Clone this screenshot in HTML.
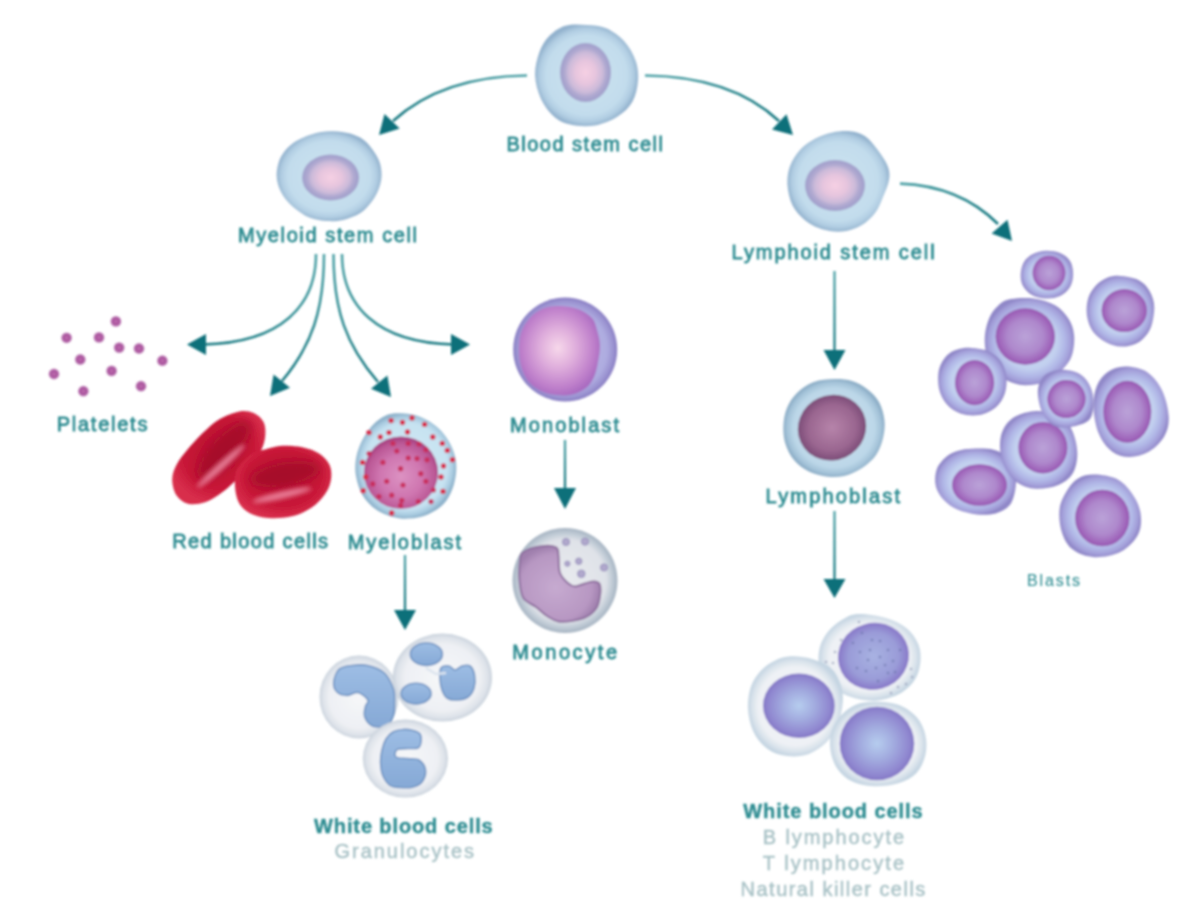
<!DOCTYPE html>
<html><head><meta charset="utf-8"><style>
html,body{margin:0;padding:0;background:#fff;}
svg{display:block;}
text{font-family:"Liberation Sans", sans-serif;}
</style></head><body>
<svg width="1188" height="918" viewBox="0 0 1188 918">
<defs>
<radialGradient id="gStemCyto" cx="50%" cy="50%" r="50%">
  <stop offset="0" stop-color="#cde4f0"/>
  <stop offset="0.78" stop-color="#c2dcec"/>
  <stop offset="0.9" stop-color="#b2cee3"/>
  <stop offset="0.96" stop-color="#a2c0d8"/>
  <stop offset="1" stop-color="#93b2ce"/>
</radialGradient>
<radialGradient id="gStemNuc" cx="50%" cy="50%" r="50%">
  <stop offset="0" stop-color="#f6d0e3"/>
  <stop offset="0.4" stop-color="#e6c5de"/>
  <stop offset="0.68" stop-color="#cbbad9"/>
  <stop offset="0.82" stop-color="#aea8d0"/>
  <stop offset="1" stop-color="#a09fcb"/>
</radialGradient>
<radialGradient id="gMyeloCyto" cx="50%" cy="50%" r="50%">
  <stop offset="0" stop-color="#d4ebf5"/>
  <stop offset="0.82" stop-color="#c6e2f1"/>
  <stop offset="0.93" stop-color="#a9cbe0"/>
  <stop offset="1" stop-color="#8db1ca"/>
</radialGradient>
<radialGradient id="gMyeloNuc" cx="50%" cy="55%" r="52%">
  <stop offset="0" stop-color="#dc92c2"/>
  <stop offset="0.55" stop-color="#cf76b0"/>
  <stop offset="0.88" stop-color="#bb5896"/>
  <stop offset="1" stop-color="#a94584"/>
</radialGradient>
<radialGradient id="gMonoblast" cx="48%" cy="47%" r="55%">
  <stop offset="0" stop-color="#f7d8ea"/>
  <stop offset="0.4" stop-color="#dfaedc"/>
  <stop offset="0.8" stop-color="#bf80cb"/>
  <stop offset="1" stop-color="#a96ac0"/>
</radialGradient>
<radialGradient id="gMonoOuter" cx="50%" cy="50%" r="50%">
  <stop offset="0" stop-color="#bcbce8"/>
  <stop offset="0.8" stop-color="#aeace0"/>
  <stop offset="0.93" stop-color="#9a92d0"/>
  <stop offset="1" stop-color="#877cc2"/>
</radialGradient>
<radialGradient id="gMonocyte" cx="50%" cy="50%" r="50%">
  <stop offset="0" stop-color="#e8eaee"/>
  <stop offset="0.78" stop-color="#dfe2e8"/>
  <stop offset="0.88" stop-color="#c5cfd9"/>
  <stop offset="1" stop-color="#a6b4c2"/>
</radialGradient>
<radialGradient id="gMonoNuc" cx="45%" cy="55%" r="55%">
  <stop offset="0" stop-color="#c6aad0"/>
  <stop offset="0.8" stop-color="#b797c2"/>
  <stop offset="1" stop-color="#a080ae"/>
</radialGradient>
<radialGradient id="gGran" cx="50%" cy="50%" r="50%">
  <stop offset="0" stop-color="#f6f7f9"/>
  <stop offset="0.75" stop-color="#eef0f4"/>
  <stop offset="0.92" stop-color="#dde2e9"/>
  <stop offset="1" stop-color="#c9d2dc"/>
</radialGradient>
<linearGradient id="gGranNuc" x1="0" y1="0" x2="0" y2="1">
  <stop offset="0" stop-color="#9dbde4"/>
  <stop offset="1" stop-color="#86a9d6"/>
</linearGradient>
<radialGradient id="gLbCyto" cx="50%" cy="50%" r="50%">
  <stop offset="0" stop-color="#cfe4f0"/>
  <stop offset="0.8" stop-color="#bcd7e8"/>
  <stop offset="0.93" stop-color="#a3c2d8"/>
  <stop offset="1" stop-color="#8cadc6"/>
</radialGradient>
<radialGradient id="gLbNuc" cx="50%" cy="50%" r="50%">
  <stop offset="0" stop-color="#b684aa"/>
  <stop offset="0.7" stop-color="#9a6690"/>
  <stop offset="1" stop-color="#7c4c78"/>
</radialGradient>
<radialGradient id="gLyCyto" cx="50%" cy="50%" r="50%">
  <stop offset="0" stop-color="#f4f5f8"/>
  <stop offset="0.78" stop-color="#eef1f5"/>
  <stop offset="0.9" stop-color="#dbe4ec"/>
  <stop offset="1" stop-color="#c5d5e2"/>
</radialGradient>
<radialGradient id="gLyNuc" cx="50%" cy="50%" r="50%">
  <stop offset="0" stop-color="#b6cdee"/>
  <stop offset="0.45" stop-color="#a2abdf"/>
  <stop offset="0.85" stop-color="#9088d0"/>
  <stop offset="1" stop-color="#8478c6"/>
</radialGradient>
<radialGradient id="gLyNuc1" cx="50%" cy="50%" r="50%">
  <stop offset="0" stop-color="#a8b2e2"/>
  <stop offset="0.7" stop-color="#9a9cd8"/>
  <stop offset="1" stop-color="#8878c8"/>
</radialGradient>
<radialGradient id="gBlastCyto" cx="50%" cy="50%" r="50%">
  <stop offset="0" stop-color="#c8d6f0"/>
  <stop offset="0.62" stop-color="#c2d0ef"/>
  <stop offset="0.8" stop-color="#b0b6e6"/>
  <stop offset="0.93" stop-color="#a29dd8"/>
  <stop offset="1" stop-color="#9088c8"/>
</radialGradient>
<radialGradient id="gBlastNuc" cx="50%" cy="50%" r="50%">
  <stop offset="0" stop-color="#baa2d8"/>
  <stop offset="0.6" stop-color="#ae88cc"/>
  <stop offset="0.88" stop-color="#a066bb"/>
  <stop offset="1" stop-color="#9656b0"/>
</radialGradient>
<radialGradient id="gPlt" cx="50%" cy="50%" r="50%">
  <stop offset="0" stop-color="#c070b0"/>
  <stop offset="0.6" stop-color="#a8509c"/>
  <stop offset="1" stop-color="#c890c0"/>
</radialGradient>
<radialGradient id="gRbcBase" cx="50%" cy="45%" r="55%">
  <stop offset="0" stop-color="#b80f30"/>
  <stop offset="0.7" stop-color="#c81838"/>
  <stop offset="1" stop-color="#d82e4c"/>
</radialGradient>
<filter id="b5" x="-50%" y="-50%" width="200%" height="200%"><feGaussianBlur stdDeviation="5"/></filter>
<filter id="b2" x="-50%" y="-50%" width="200%" height="200%"><feGaussianBlur stdDeviation="2.2"/></filter>
<filter id="soft" x="-5%" y="-5%" width="110%" height="110%"><feGaussianBlur stdDeviation="0.85"/></filter>
</defs>
<rect width="1188" height="918" fill="#fff"/>
<g filter="url(#soft)">
<path d="M565.4,25.7 C571.7,23.8 579.8,24.5 586.6,24.9 C593.4,25.3 599.9,25.5 606.2,28.2 C612.5,30.9 619.3,35.8 624.2,41.2 C629.1,46.6 633.3,54.2 635.6,60.8 C637.9,67.3 638.5,73.7 638.0,80.5 C637.5,87.3 635.8,95.7 632.4,101.7 C629.0,107.7 623.9,112.5 617.6,116.4 C611.3,120.4 602.7,124.0 594.8,125.4 C586.9,126.8 577.1,126.1 570.3,124.6 C563.5,123.1 558.8,120.8 553.9,116.4 C549.0,112.0 543.9,105.2 540.8,98.4 C537.7,91.6 535.4,83.2 535.1,75.6 C534.8,68.0 536.9,59.2 539.2,52.7 C541.5,46.2 544.6,40.8 549.0,36.3 C553.4,31.8 559.1,27.6 565.4,25.7 Z" fill="url(#gStemCyto)"/>
<ellipse cx="585.5" cy="72.5" rx="25.5" ry="29.5" fill="url(#gStemNuc)"/>
<path d="M334.1,131.3 C338.9,131.6 345.2,132.2 350.1,133.6 C355.1,135.0 360.0,137.1 363.8,139.9 C367.6,142.7 370.3,146.4 373.0,150.2 C375.7,154.0 378.4,158.3 379.8,162.7 C381.2,167.1 381.7,172.1 381.5,176.5 C381.3,180.9 380.3,184.9 378.7,189.1 C377.1,193.3 374.9,197.6 371.8,201.6 C368.8,205.6 365.2,210.0 360.4,213.1 C355.6,216.2 348.7,218.6 343.2,219.9 C337.7,221.2 332.7,221.5 327.2,221.1 C321.7,220.7 315.1,219.6 310.0,217.7 C304.9,215.8 300.5,212.8 296.3,209.6 C292.1,206.3 287.9,202.4 284.9,198.2 C281.8,194.0 279.3,189.1 278.0,184.5 C276.7,179.9 276.3,175.6 276.9,170.8 C277.5,166.0 278.7,160.5 281.4,155.9 C284.1,151.3 288.3,146.7 292.9,143.3 C297.5,139.9 304.1,137.2 308.9,135.3 C313.7,133.4 317.3,132.6 321.5,131.9 C325.7,131.2 329.3,131.0 334.1,131.3 Z" fill="url(#gStemCyto)"/>
<ellipse cx="330.6" cy="177.6" rx="28.5" ry="23" fill="url(#gStemNuc)"/>
<path d="M832.6,132.5 C838.5,131.2 844.7,130.7 850.1,131.3 C855.5,131.9 860.6,133.2 865.2,136.3 C869.8,139.4 874.0,145.0 877.7,150.0 C881.5,155.0 885.8,161.3 887.7,166.3 C889.6,171.3 889.8,174.9 889.0,180.1 C888.2,185.3 885.0,192.3 882.7,197.7 C880.4,203.1 878.8,208.1 875.2,212.7 C871.7,217.3 866.8,222.1 861.4,225.2 C856.0,228.3 849.3,230.9 842.6,231.5 C835.9,232.1 827.6,230.9 821.3,229.0 C815.0,227.1 809.8,224.2 805.0,220.2 C800.2,216.2 795.4,211.0 792.5,205.2 C789.6,199.3 787.9,191.6 787.5,185.1 C787.1,178.6 787.9,172.2 790.0,166.3 C792.1,160.5 795.8,154.6 800.0,150.0 C804.2,145.4 809.6,141.7 815.0,138.8 C820.4,135.9 826.8,133.8 832.6,132.5 Z" fill="url(#gStemCyto)"/>
<ellipse cx="835" cy="185.5" rx="30" ry="25.5" fill="url(#gStemNuc)"/>
<linearGradient id="ag1" gradientUnits="userSpaceOnUse" x1="527.0" y1="75.5" x2="393.0" y2="121.0"><stop offset="0" stop-color="#4fa2a7"/><stop offset="1" stop-color="#1b7a82"/></linearGradient>
<path d="M527,75.5 C470,76 425,92 393,121" fill="none" stroke="url(#ag1)" stroke-width="2.6"/>
<polygon points="379.0,135.0 384.5,114.0 399.7,128.5" fill="#11707a"/>
<linearGradient id="ag2" gradientUnits="userSpaceOnUse" x1="645.0" y1="75.5" x2="779.0" y2="121.0"><stop offset="0" stop-color="#4fa2a7"/><stop offset="1" stop-color="#1b7a82"/></linearGradient>
<path d="M645,75.5 C702,76 748,92 779,121" fill="none" stroke="url(#ag2)" stroke-width="2.6"/>
<polygon points="793.0,135.0 772.0,129.5 786.5,114.3" fill="#11707a"/>
<linearGradient id="ag3" gradientUnits="userSpaceOnUse" x1="900.0" y1="183.6" x2="998.0" y2="224.0"><stop offset="0" stop-color="#4fa2a7"/><stop offset="1" stop-color="#1b7a82"/></linearGradient>
<path d="M900,183.6 C940,185 972,198 998,224" fill="none" stroke="url(#ag3)" stroke-width="2.6"/>
<polygon points="1012.0,241.0 991.6,233.6 1007.5,219.8" fill="#11707a"/>
<linearGradient id="ag4" gradientUnits="userSpaceOnUse" x1="316.0" y1="254.0" x2="203.0" y2="344.5"><stop offset="0" stop-color="#4fa2a7"/><stop offset="1" stop-color="#1b7a82"/></linearGradient>
<path d="M316,254 C316,305 282,343 203,344.5" fill="none" stroke="url(#ag4)" stroke-width="2.6"/>
<polygon points="187.0,344.5 206.0,334.0 206.0,355.0" fill="#11707a"/>
<linearGradient id="ag5" gradientUnits="userSpaceOnUse" x1="324.0" y1="254.0" x2="282.0" y2="381.0"><stop offset="0" stop-color="#4fa2a7"/><stop offset="1" stop-color="#1b7a82"/></linearGradient>
<path d="M324,254 C324,310 312,345 282,381" fill="none" stroke="url(#ag5)" stroke-width="2.6"/>
<polygon points="270.0,396.0 273.6,374.6 290.0,387.7" fill="#11707a"/>
<linearGradient id="ag6" gradientUnits="userSpaceOnUse" x1="333.5" y1="254.0" x2="378.0" y2="382.0"><stop offset="0" stop-color="#4fa2a7"/><stop offset="1" stop-color="#1b7a82"/></linearGradient>
<path d="M333.5,254 C333.5,310 346,345 378,382" fill="none" stroke="url(#ag6)" stroke-width="2.6"/>
<polygon points="391.0,397.0 371.0,388.7 387.4,375.6" fill="#11707a"/>
<linearGradient id="ag7" gradientUnits="userSpaceOnUse" x1="342.0" y1="254.0" x2="454.0" y2="344.5"><stop offset="0" stop-color="#4fa2a7"/><stop offset="1" stop-color="#1b7a82"/></linearGradient>
<path d="M342,254 C342,305 376,343 454,344.5" fill="none" stroke="url(#ag7)" stroke-width="2.6"/>
<polygon points="470.0,344.5 451.0,355.0 451.0,334.0" fill="#11707a"/>
<linearGradient id="ag8" gradientUnits="userSpaceOnUse" x1="565" y1="440" x2="565.01" y2="489"><stop offset="0" stop-color="#4fa2a7"/><stop offset="1" stop-color="#1b7a82"/></linearGradient>
<path d="M565,440 L565,489" stroke="url(#ag8)" stroke-width="2.3"/>
<polygon points="565.0,509.0 554.0,488.0 576.0,488.0" fill="#11707a"/>
<linearGradient id="ag9" gradientUnits="userSpaceOnUse" x1="405" y1="555" x2="405.01" y2="611"><stop offset="0" stop-color="#4fa2a7"/><stop offset="1" stop-color="#1b7a82"/></linearGradient>
<path d="M405,555 L405,611" stroke="url(#ag9)" stroke-width="2.3"/>
<polygon points="405.0,630.0 394.0,610.0 416.0,610.0" fill="#11707a"/>
<linearGradient id="ag10" gradientUnits="userSpaceOnUse" x1="834.5" y1="271" x2="834.51" y2="351"><stop offset="0" stop-color="#4fa2a7"/><stop offset="1" stop-color="#1b7a82"/></linearGradient>
<path d="M834.5,271 L834.5,351" stroke="url(#ag10)" stroke-width="2.3"/>
<polygon points="834.5,370.0 823.5,350.0 845.5,350.0" fill="#11707a"/>
<linearGradient id="ag11" gradientUnits="userSpaceOnUse" x1="834.5" y1="511" x2="834.51" y2="580"><stop offset="0" stop-color="#4fa2a7"/><stop offset="1" stop-color="#1b7a82"/></linearGradient>
<path d="M834.5,511 L834.5,580" stroke="url(#ag11)" stroke-width="2.3"/>
<polygon points="834.5,598.0 823.5,579.0 845.5,579.0" fill="#11707a"/>
<circle cx="115.9" cy="321.4" r="5.4" fill="url(#gPlt)"/>
<circle cx="66.6" cy="337.8" r="5.4" fill="url(#gPlt)"/>
<circle cx="99" cy="337.4" r="5.4" fill="url(#gPlt)"/>
<circle cx="119.2" cy="347.6" r="5.4" fill="url(#gPlt)"/>
<circle cx="139" cy="348.5" r="5.4" fill="url(#gPlt)"/>
<circle cx="80.3" cy="359.5" r="5.4" fill="url(#gPlt)"/>
<circle cx="162.4" cy="360.7" r="5.4" fill="url(#gPlt)"/>
<circle cx="54" cy="374" r="5.4" fill="url(#gPlt)"/>
<circle cx="111.6" cy="370.9" r="5.4" fill="url(#gPlt)"/>
<circle cx="141" cy="386.2" r="5.4" fill="url(#gPlt)"/>
<circle cx="83.4" cy="391.2" r="5.4" fill="url(#gPlt)"/>
<clipPath id="cr1"><path d="M239.4,411.4 C245.1,410.3 249.6,411.1 253.7,412.9 C257.8,414.7 261.8,418.3 263.7,422.2 C265.6,426.1 265.7,431.7 265.2,436.5 C264.7,441.3 263.3,446.0 260.9,450.8 C258.5,455.6 254.9,460.3 250.9,465.1 C246.9,469.9 241.4,474.9 236.6,479.4 C231.8,483.9 227.4,488.5 222.2,492.3 C216.9,496.1 210.8,500.4 205.1,502.3 C199.4,504.2 192.7,504.9 187.9,503.7 C183.1,502.5 179.0,499.2 176.4,495.2 C173.8,491.1 172.2,484.4 172.2,479.4 C172.2,474.4 174.0,469.9 176.4,465.1 C178.8,460.3 182.2,456.1 186.5,450.8 C190.8,445.6 196.7,438.9 202.2,433.6 C207.7,428.4 213.2,423.0 219.4,419.3 C225.6,415.6 233.7,412.5 239.4,411.4 Z"/></clipPath>
<path d="M239.4,411.4 C245.1,410.3 249.6,411.1 253.7,412.9 C257.8,414.7 261.8,418.3 263.7,422.2 C265.6,426.1 265.7,431.7 265.2,436.5 C264.7,441.3 263.3,446.0 260.9,450.8 C258.5,455.6 254.9,460.3 250.9,465.1 C246.9,469.9 241.4,474.9 236.6,479.4 C231.8,483.9 227.4,488.5 222.2,492.3 C216.9,496.1 210.8,500.4 205.1,502.3 C199.4,504.2 192.7,504.9 187.9,503.7 C183.1,502.5 179.0,499.2 176.4,495.2 C173.8,491.1 172.2,484.4 172.2,479.4 C172.2,474.4 174.0,469.9 176.4,465.1 C178.8,460.3 182.2,456.1 186.5,450.8 C190.8,445.6 196.7,438.9 202.2,433.6 C207.7,428.4 213.2,423.0 219.4,419.3 C225.6,415.6 233.7,412.5 239.4,411.4 Z" fill="url(#gRbcBase)"/>
<g clip-path="url(#cr1)">
<ellipse transform="translate(224,450) rotate(-48)" rx="38" ry="13" fill="#a3092a" opacity="0.85" filter="url(#b5)"/>
<ellipse transform="translate(221,466) rotate(-42)" rx="32" ry="3.6" fill="#ee8aa3" opacity="0.9" filter="url(#b2)"/>
</g>
<clipPath id="cr2"><path d="M265.2,449.4 C270.0,448.2 276.1,446.2 282.3,445.8 C288.5,445.4 296.2,445.9 302.4,447.2 C308.6,448.5 315.0,450.7 319.5,453.7 C324.0,456.7 327.7,460.8 329.6,465.1 C331.5,469.4 331.7,474.6 331.0,479.4 C330.3,484.2 328.6,488.9 325.3,493.7 C322.0,498.5 316.7,504.2 311.0,508.0 C305.3,511.8 298.1,514.9 290.9,516.6 C283.7,518.3 274.7,518.5 268.0,518.0 C261.3,517.5 255.7,516.2 250.9,513.8 C246.1,511.4 242.0,508.0 239.4,503.7 C236.8,499.4 235.6,493.5 235.1,488.0 C234.6,482.5 234.9,475.6 236.6,470.8 C238.3,466.0 242.2,462.4 245.1,459.4 C247.9,456.4 250.3,454.6 253.7,452.9 C257.1,451.2 260.4,450.6 265.2,449.4 Z"/></clipPath>
<path d="M265.2,449.4 C270.0,448.2 276.1,446.2 282.3,445.8 C288.5,445.4 296.2,445.9 302.4,447.2 C308.6,448.5 315.0,450.7 319.5,453.7 C324.0,456.7 327.7,460.8 329.6,465.1 C331.5,469.4 331.7,474.6 331.0,479.4 C330.3,484.2 328.6,488.9 325.3,493.7 C322.0,498.5 316.7,504.2 311.0,508.0 C305.3,511.8 298.1,514.9 290.9,516.6 C283.7,518.3 274.7,518.5 268.0,518.0 C261.3,517.5 255.7,516.2 250.9,513.8 C246.1,511.4 242.0,508.0 239.4,503.7 C236.8,499.4 235.6,493.5 235.1,488.0 C234.6,482.5 234.9,475.6 236.6,470.8 C238.3,466.0 242.2,462.4 245.1,459.4 C247.9,456.4 250.3,454.6 253.7,452.9 C257.1,451.2 260.4,450.6 265.2,449.4 Z" fill="url(#gRbcBase)"/>
<g clip-path="url(#cr2)">
<ellipse transform="translate(285,474) rotate(-10)" rx="36" ry="12" fill="#a3092a" opacity="0.85" filter="url(#b5)"/>
<ellipse transform="translate(282,495) rotate(-13)" rx="30" ry="3.6" fill="#ee8aa3" opacity="0.9" filter="url(#b2)"/>
</g>
<path d="M391.7,413.7 C397.0,412.9 405.0,413.4 410.7,414.3 C416.4,415.2 421.3,417.1 425.9,419.4 C430.5,421.7 434.7,424.6 438.5,428.2 C442.3,431.8 445.9,436.3 448.6,440.9 C451.3,445.5 453.6,450.9 454.9,456.0 C456.2,461.1 456.6,465.7 456.2,471.2 C455.8,476.7 454.5,483.4 452.4,488.9 C450.3,494.4 447.6,499.9 443.6,504.1 C439.6,508.3 434.1,511.8 428.4,514.2 C422.7,516.6 415.5,518.2 409.4,518.6 C403.3,519.0 397.4,518.3 391.7,516.7 C386.0,515.1 380.1,512.7 375.3,509.1 C370.5,505.5 365.8,500.5 362.6,495.2 C359.4,489.9 357.5,483.2 356.3,477.5 C355.1,471.8 355.1,466.6 355.7,461.1 C356.3,455.6 357.9,450.0 360.1,444.7 C362.3,439.4 365.8,433.7 369.0,429.5 C372.2,425.3 375.3,422.0 379.1,419.4 C382.9,416.8 386.4,414.5 391.7,413.7 Z" fill="url(#gMyeloCyto)"/>
<ellipse cx="401" cy="472.7" rx="37" ry="36.3" fill="url(#gMyeloNuc)"/>
<circle cx="391.1" cy="420.6" r="2.7" fill="#d62e4e"/>
<circle cx="402.5" cy="422.5" r="2.7" fill="#d62e4e"/>
<circle cx="412.0" cy="418.0" r="2.7" fill="#d62e4e"/>
<circle cx="424.6" cy="424.4" r="2.7" fill="#d62e4e"/>
<circle cx="369.0" cy="432.6" r="2.7" fill="#d62e4e"/>
<circle cx="389.0" cy="432.6" r="2.7" fill="#d62e4e"/>
<circle cx="407.5" cy="432.0" r="2.7" fill="#d62e4e"/>
<circle cx="432.8" cy="437.0" r="2.7" fill="#d62e4e"/>
<circle cx="442.3" cy="443.4" r="2.7" fill="#d62e4e"/>
<circle cx="447.3" cy="450.4" r="2.7" fill="#d62e4e"/>
<circle cx="452.4" cy="459.8" r="2.7" fill="#d62e4e"/>
<circle cx="443.5" cy="466.0" r="2.7" fill="#d62e4e"/>
<circle cx="441.0" cy="477.0" r="2.7" fill="#d62e4e"/>
<circle cx="443.0" cy="491.4" r="2.7" fill="#d62e4e"/>
<circle cx="362.6" cy="462.4" r="2.7" fill="#d62e4e"/>
<circle cx="365.8" cy="476.9" r="2.7" fill="#d62e4e"/>
<circle cx="363.3" cy="490.8" r="2.7" fill="#d62e4e"/>
<circle cx="391.7" cy="513.0" r="2.7" fill="#d62e4e"/>
<circle cx="380.3" cy="437.0" r="2.7" fill="#d62e4e"/>
<circle cx="393.0" cy="443.4" r="2.6" fill="#c82c5c" opacity="0.95"/>
<circle cx="408.2" cy="443.4" r="2.6" fill="#c82c5c" opacity="0.95"/>
<circle cx="419.0" cy="444.0" r="2.6" fill="#c82c5c" opacity="0.95"/>
<circle cx="396.8" cy="451.0" r="2.6" fill="#c82c5c" opacity="0.95"/>
<circle cx="425.9" cy="449.7" r="2.6" fill="#c82c5c" opacity="0.95"/>
<circle cx="369.0" cy="453.5" r="2.6" fill="#c82c5c" opacity="0.95"/>
<circle cx="382.9" cy="462.4" r="2.6" fill="#c82c5c" opacity="0.95"/>
<circle cx="408.2" cy="458.0" r="2.6" fill="#c82c5c" opacity="0.95"/>
<circle cx="417.0" cy="458.6" r="2.6" fill="#c82c5c" opacity="0.95"/>
<circle cx="427.0" cy="459.8" r="2.6" fill="#c82c5c" opacity="0.95"/>
<circle cx="400.6" cy="468.7" r="2.6" fill="#c82c5c" opacity="0.95"/>
<circle cx="420.8" cy="473.7" r="2.6" fill="#c82c5c" opacity="0.95"/>
<circle cx="386.7" cy="481.3" r="2.6" fill="#c82c5c" opacity="0.95"/>
<circle cx="425.9" cy="481.3" r="2.6" fill="#c82c5c" opacity="0.95"/>
<circle cx="372.8" cy="483.9" r="2.6" fill="#c82c5c" opacity="0.95"/>
<circle cx="403.0" cy="485.0" r="2.6" fill="#c82c5c" opacity="0.95"/>
<circle cx="433.4" cy="490.0" r="2.6" fill="#c82c5c" opacity="0.95"/>
<circle cx="391.7" cy="495.2" r="2.6" fill="#c82c5c" opacity="0.95"/>
<circle cx="379.0" cy="496.5" r="2.6" fill="#c82c5c" opacity="0.95"/>
<circle cx="401.8" cy="500.3" r="2.6" fill="#c82c5c" opacity="0.95"/>
<circle cx="418.3" cy="501.6" r="2.6" fill="#c82c5c" opacity="0.95"/>
<circle cx="431.0" cy="501.6" r="2.6" fill="#c82c5c" opacity="0.95"/>
<circle cx="400.6" cy="505.3" r="2.6" fill="#c82c5c" opacity="0.95"/>
<circle cx="565.2" cy="349.5" r="52" fill="url(#gMonoOuter)"/>
<path d="M559.0,306.0 C565.0,306.0 572.5,307.0 578.0,309.0 C583.5,311.0 588.8,314.5 592.0,318.0 C595.2,321.5 595.7,325.5 597.0,330.0 C598.3,334.5 599.8,339.7 600.0,345.0 C600.2,350.3 599.0,356.7 598.0,362.0 C597.0,367.3 596.0,372.7 594.0,377.0 C592.0,381.3 589.7,385.1 586.0,388.0 C582.3,390.9 576.8,393.3 572.0,394.5 C567.2,395.7 562.2,395.6 557.0,395.0 C551.8,394.4 545.8,393.3 541.0,391.0 C536.2,388.7 531.3,385.2 528.0,381.0 C524.7,376.8 522.5,371.2 521.0,366.0 C519.5,360.8 519.0,355.5 519.0,350.0 C519.0,344.5 519.3,338.2 521.0,333.0 C522.7,327.8 525.5,323.0 529.0,319.0 C532.5,315.0 537.0,311.2 542.0,309.0 C547.0,306.8 553.0,306.0 559.0,306.0 Z" fill="url(#gMonoblast)"/>
<circle cx="565" cy="580.5" r="52.5" fill="url(#gMonocyte)"/>
<path d="M523.2,552.3 C526.5,549.9 534.5,547.3 540.0,546.5 C545.5,545.7 552.9,545.7 556.0,547.3 C559.1,548.9 557.9,551.8 558.5,556.0 C559.1,560.2 558.3,568.0 559.8,572.5 C561.3,577.0 564.9,580.4 567.4,582.7 C569.9,585.0 572.1,586.3 575.0,586.4 C577.9,586.5 581.8,584.3 585.0,583.5 C588.2,582.7 591.6,581.3 594.0,581.4 C596.4,581.5 598.5,581.9 599.5,584.0 C600.5,586.1 600.7,590.0 600.2,594.0 C599.7,598.0 599.2,604.0 596.5,608.0 C593.8,612.0 589.7,615.7 583.8,618.0 C577.9,620.3 567.1,622.1 561.0,621.8 C554.9,621.5 551.2,618.5 547.0,616.0 C542.8,613.5 540.0,610.0 536.0,607.0 C532.0,604.0 526.0,602.5 523.2,597.8 C520.4,593.1 519.9,585.0 519.4,578.9 C518.9,572.8 519.4,565.4 520.0,561.0 C520.6,556.6 519.9,554.7 523.2,552.3 Z" fill="url(#gMonoNuc)" stroke="#8f6f9f" stroke-width="2"/>
<circle cx="566" cy="542" r="3.6" fill="#b0a8cc" stroke="#968ebc" stroke-width="1"/>
<circle cx="585" cy="541.6" r="3.6" fill="#b0a8cc" stroke="#968ebc" stroke-width="1"/>
<circle cx="567.4" cy="563.7" r="2.6" fill="#b0a8cc" stroke="#968ebc" stroke-width="1"/>
<circle cx="578.8" cy="561.2" r="3.2" fill="#b0a8cc" stroke="#968ebc" stroke-width="1"/>
<circle cx="581.3" cy="573.8" r="3.8" fill="#b0a8cc" stroke="#968ebc" stroke-width="1"/>
<circle cx="604" cy="567.5" r="3.6" fill="#b0a8cc" stroke="#968ebc" stroke-width="1"/>
<ellipse cx="359" cy="697" rx="39.5" ry="41.5" fill="url(#gGran)"/>
<path d="M333.7,682.3 C334.1,678.5 336.2,672.0 339.3,669.2 C342.4,666.4 347.3,666.1 352.0,665.5 C356.7,664.9 362.0,664.2 367.4,665.5 C372.8,666.8 379.9,669.0 384.3,673.0 C388.7,677.0 392.0,684.8 393.7,689.8 C395.4,694.8 394.5,698.9 394.5,703.0 C394.5,707.1 394.8,710.5 393.7,714.2 C392.6,717.9 390.4,723.3 388.0,725.4 C385.6,727.5 381.8,727.0 379.0,727.0 C376.2,727.0 373.6,727.2 371.2,725.4 C368.8,723.6 365.4,719.2 364.5,716.0 C363.6,712.8 365.0,708.7 365.6,706.0 C366.2,703.3 369.3,702.2 368.0,700.0 C366.7,697.8 361.5,693.3 358.0,692.5 C354.5,691.7 350.3,695.5 346.8,695.4 C343.3,695.3 339.2,694.2 337.0,692.0 C334.8,689.8 333.3,686.1 333.7,682.3 Z" fill="url(#gGranNuc)" stroke="#6e93c2" stroke-width="1.6"/>
<ellipse cx="442.4" cy="677.6" rx="49.6" ry="44" fill="url(#gGran)"/>
<ellipse cx="426.4" cy="654.2" rx="16" ry="11.2" fill="url(#gGranNuc)" stroke="#6e93c2" stroke-width="1.6"/>
<ellipse cx="416.1" cy="693.6" rx="15" ry="10.3" fill="url(#gGranNuc)" stroke="#6e93c2" stroke-width="1.6"/>
<path d="M441.0,668.0 C442.5,665.8 446.7,665.7 449.0,666.0 C451.3,666.3 452.8,670.0 455.0,670.0 C457.2,670.0 459.5,666.7 462.0,666.0 C464.5,665.3 467.9,664.5 470.0,666.0 C472.1,667.5 473.8,671.3 474.5,675.0 C475.2,678.7 475.1,684.3 474.0,688.0 C472.9,691.7 470.8,695.0 468.0,697.0 C465.2,699.0 460.5,699.8 457.0,700.0 C453.5,700.2 449.5,699.7 447.0,698.0 C444.5,696.3 443.2,693.2 442.0,690.0 C440.8,686.8 440.2,682.7 440.0,679.0 C439.8,675.3 439.5,670.2 441.0,668.0 Z" fill="url(#gGranNuc)" stroke="#6e93c2" stroke-width="1.6"/>
<path d="M426,668 L436,674 L446,673" fill="none" stroke="#dce4ee" stroke-width="2.5"/>
<ellipse cx="405.4" cy="758.6" rx="42.6" ry="39" fill="url(#gGran)"/>
<path d="M403.0,729.5 C406.3,729.2 410.2,729.8 413.0,730.5 C415.8,731.2 418.7,732.1 420.0,734.0 C421.3,735.9 421.3,739.7 421.0,742.0 C420.7,744.3 420.2,746.9 418.0,748.0 C415.8,749.1 411.5,748.2 408.0,748.5 C404.5,748.8 399.0,748.3 397.0,749.7 C395.0,751.1 394.2,755.5 396.0,757.0 C397.8,758.5 404.2,758.0 408.0,758.5 C411.8,759.0 416.1,758.1 419.0,760.0 C421.9,761.9 425.0,766.3 425.5,770.0 C426.0,773.7 424.2,779.1 422.0,782.0 C419.8,784.9 416.1,786.3 412.4,787.2 C408.7,788.1 403.7,787.8 400.0,787.5 C396.3,787.2 392.8,787.2 390.0,785.3 C387.2,783.4 384.6,779.7 383.0,776.0 C381.4,772.3 380.8,767.3 380.6,763.0 C380.4,758.7 381.1,754.0 382.0,750.0 C382.9,746.0 384.2,742.0 386.0,739.0 C387.8,736.0 390.2,733.6 393.0,732.0 C395.8,730.4 399.7,729.8 403.0,729.5 Z" fill="url(#gGranNuc)" stroke="#6e93c2" stroke-width="1.6"/>
<path d="M834.0,379.0 C840.3,378.8 846.5,379.3 852.0,381.0 C857.5,382.7 862.5,385.5 867.0,389.0 C871.5,392.5 876.1,396.8 879.0,402.0 C881.9,407.2 883.7,414.0 884.4,420.0 C885.1,426.0 884.4,432.2 883.0,438.0 C881.6,443.8 879.5,450.0 876.0,455.0 C872.5,460.0 867.3,464.5 862.0,468.0 C856.7,471.5 850.0,474.6 844.0,476.0 C838.0,477.4 832.0,477.3 826.0,476.5 C820.0,475.7 813.3,473.8 808.0,471.0 C802.7,468.2 797.8,464.5 794.0,460.0 C790.2,455.5 787.3,449.7 785.5,444.0 C783.7,438.3 783.1,432.0 783.4,426.0 C783.6,420.0 784.7,413.5 787.0,408.0 C789.3,402.5 792.5,397.3 797.0,393.0 C801.5,388.7 807.8,384.3 814.0,382.0 C820.2,379.7 827.7,379.2 834.0,379.0 Z" fill="url(#gLbCyto)"/>
<ellipse transform="translate(832,427.7) rotate(-25)" rx="34.5" ry="32.5" fill="url(#gLbNuc)"/>
<path d="M857.8,614.0 C865.2,613.6 877.9,615.6 886.0,618.0 C894.1,620.4 900.8,623.7 906.2,628.1 C911.6,632.5 915.9,638.6 918.3,644.3 C920.6,650.0 921.0,656.4 920.3,662.4 C919.6,668.4 918.0,675.1 914.3,680.5 C910.6,685.9 904.8,691.2 898.1,694.6 C891.4,698.0 882.0,700.4 874.0,700.7 C866.0,701.0 857.2,699.3 849.8,696.6 C842.4,693.9 834.6,689.6 829.6,684.6 C824.6,679.6 821.3,672.5 819.6,666.4 C817.9,660.3 818.3,654.0 819.6,648.3 C820.9,642.6 823.9,636.9 827.6,632.2 C831.3,627.5 836.7,623.1 841.7,620.1 C846.7,617.1 850.4,614.4 857.8,614.0 Z" fill="url(#gLyCyto)"/>
<ellipse transform="translate(873.5,656.3) rotate(-15)" rx="35.7" ry="33.3" fill="url(#gLyNuc1)"/>
<rect x="860.9" y="631.9" width="2.2" height="2.2" fill="#6a74a8" opacity="0.7"/>
<rect x="870.9" y="638.9" width="2.2" height="2.2" fill="#6a74a8" opacity="0.7"/>
<rect x="878.9" y="639.9" width="2.2" height="2.2" fill="#6a74a8" opacity="0.7"/>
<rect x="886.9" y="648.9" width="2.2" height="2.2" fill="#6a74a8" opacity="0.7"/>
<rect x="868.9" y="648.9" width="2.2" height="2.2" fill="#6a74a8" opacity="0.7"/>
<rect x="858.9" y="650.9" width="2.2" height="2.2" fill="#6a74a8" opacity="0.7"/>
<rect x="866.9" y="658.9" width="2.2" height="2.2" fill="#6a74a8" opacity="0.7"/>
<rect x="878.9" y="655.9" width="2.2" height="2.2" fill="#6a74a8" opacity="0.7"/>
<rect x="891.9" y="659.9" width="2.2" height="2.2" fill="#6a74a8" opacity="0.7"/>
<rect x="883.9" y="663.9" width="2.2" height="2.2" fill="#6a74a8" opacity="0.7"/>
<rect x="874.9" y="666.9" width="2.2" height="2.2" fill="#6a74a8" opacity="0.7"/>
<rect x="864.9" y="669.9" width="2.2" height="2.2" fill="#6a74a8" opacity="0.7"/>
<rect x="886.9" y="671.9" width="2.2" height="2.2" fill="#6a74a8" opacity="0.7"/>
<rect x="876.9" y="679.9" width="2.2" height="2.2" fill="#6a74a8" opacity="0.7"/>
<rect x="855.9" y="666.9" width="2.2" height="2.2" fill="#6a74a8" opacity="0.7"/>
<rect x="898.9" y="648.9" width="2.2" height="2.2" fill="#6a74a8" opacity="0.7"/>
<rect x="851.9" y="641.9" width="2.2" height="2.2" fill="#6a74a8" opacity="0.7"/>
<rect x="893.9" y="670.9" width="2.2" height="2.2" fill="#6a74a8" opacity="0.7"/>
<rect x="857.9" y="620.9" width="2.2" height="2.2" fill="#8892b0" opacity="0.7"/>
<rect x="839.9" y="638.9" width="2.2" height="2.2" fill="#8892b0" opacity="0.7"/>
<rect x="833.9" y="650.9" width="2.2" height="2.2" fill="#8892b0" opacity="0.7"/>
<rect x="824.9" y="660.9" width="2.2" height="2.2" fill="#8892b0" opacity="0.7"/>
<rect x="831.9" y="661.9" width="2.2" height="2.2" fill="#8892b0" opacity="0.7"/>
<rect x="909.9" y="667.9" width="2.2" height="2.2" fill="#8892b0" opacity="0.7"/>
<rect x="910.9" y="675.9" width="2.2" height="2.2" fill="#8892b0" opacity="0.7"/>
<rect x="904.9" y="682.9" width="2.2" height="2.2" fill="#8892b0" opacity="0.7"/>
<rect x="896.9" y="685.9" width="2.2" height="2.2" fill="#8892b0" opacity="0.7"/>
<rect x="889.9" y="691.9" width="2.2" height="2.2" fill="#8892b0" opacity="0.7"/>
<path d="M791.3,656.3 C797.7,656.1 806.8,657.4 813.5,659.4 C820.2,661.4 827.1,664.2 831.6,668.4 C836.1,672.6 838.9,678.9 840.7,684.6 C842.6,690.3 843.2,696.0 842.7,702.7 C842.2,709.4 840.6,718.2 837.7,724.9 C834.9,731.6 831.0,738.0 825.6,743.0 C820.2,748.0 812.8,753.1 805.4,755.1 C798.0,757.1 788.0,756.5 781.3,755.1 C774.6,753.8 769.8,751.0 765.1,747.0 C760.4,743.0 756.0,737.3 753.1,730.9 C750.2,724.5 748.4,716.1 748.0,708.7 C747.6,701.3 748.8,693.0 751.0,686.6 C753.2,680.2 757.1,674.8 761.1,670.4 C765.1,666.0 770.2,662.8 775.2,660.4 C780.2,658.0 784.9,656.5 791.3,656.3 Z" fill="url(#gLyCyto)"/>
<ellipse transform="translate(798.9,705.7) rotate(0)" rx="35.9" ry="32.2" fill="url(#gLyNuc)"/>
<path d="M874.0,701.7 C881.0,701.7 891.1,702.2 898.1,704.7 C905.1,707.2 911.8,711.8 916.3,716.8 C920.8,721.8 923.8,728.5 925.3,734.9 C926.8,741.3 926.8,748.7 925.3,755.1 C923.8,761.5 920.8,768.5 916.3,773.2 C911.8,777.9 905.1,781.1 898.1,783.3 C891.1,785.5 881.7,786.6 874.0,786.3 C866.3,786.0 857.8,784.1 851.8,781.3 C845.8,778.4 841.2,774.2 837.7,769.2 C834.2,764.2 831.6,757.4 830.6,751.0 C829.6,744.6 829.8,736.9 831.6,730.9 C833.5,724.9 837.7,719.2 841.7,714.8 C845.7,710.4 850.4,706.9 855.8,704.7 C861.2,702.5 867.0,701.7 874.0,701.7 Z" fill="url(#gLyCyto)"/>
<ellipse transform="translate(877,743.5) rotate(0)" rx="37.3" ry="36.8" fill="url(#gLyNuc)"/>
<path d="M1010.8,299.1 C1016.6,298.0 1026.3,297.4 1033.7,298.4 C1041.1,299.4 1049.2,301.8 1055.0,305.2 C1060.8,308.6 1065.5,313.9 1068.7,319.0 C1071.9,324.1 1073.6,329.6 1074.1,335.7 C1074.6,341.8 1073.7,350.0 1071.8,355.6 C1069.9,361.2 1066.9,365.0 1062.6,369.3 C1058.3,373.6 1052.2,378.8 1045.9,381.5 C1039.6,384.2 1031.1,385.6 1024.5,385.3 C1017.9,385.1 1011.3,382.7 1006.2,380.0 C1001.1,377.3 997.3,373.6 994.0,369.3 C990.7,365.0 987.9,359.6 986.4,354.0 C984.9,348.4 984.4,341.8 984.9,335.7 C985.4,329.6 987.2,322.5 989.5,317.4 C991.8,312.3 995.1,308.2 998.6,305.2 C1002.1,302.1 1004.9,300.2 1010.8,299.1 Z" fill="url(#gBlastCyto)"/>
<ellipse transform="translate(1025.3,336.5) rotate(0)" rx="29.7" ry="28.2" fill="url(#gBlastNuc)"/>
<path d="M1046.0,250.7 C1050.5,250.5 1056.0,251.3 1060.0,253.0 C1064.0,254.7 1067.8,257.5 1070.0,261.0 C1072.2,264.5 1073.1,269.7 1073.1,274.0 C1073.1,278.3 1072.2,283.3 1070.0,287.0 C1067.8,290.7 1064.0,294.1 1060.0,296.0 C1056.0,297.9 1050.7,298.7 1046.0,298.5 C1041.3,298.3 1035.8,297.1 1032.0,295.0 C1028.2,292.9 1024.9,289.5 1023.0,286.0 C1021.1,282.5 1020.5,278.0 1020.7,274.0 C1020.9,270.0 1022.0,265.3 1024.0,262.0 C1026.0,258.7 1029.3,255.9 1033.0,254.0 C1036.7,252.1 1041.5,250.9 1046.0,250.7 Z" fill="url(#gBlastCyto)"/>
<ellipse transform="translate(1049,273) rotate(0)" rx="16.5" ry="17.2" fill="url(#gBlastNuc)"/>
<path d="M1119.8,275.9 C1124.6,276.1 1131.7,277.1 1136.3,279.1 C1140.9,281.1 1144.7,283.9 1147.6,287.9 C1150.5,291.9 1153.1,297.6 1153.9,303.1 C1154.8,308.6 1153.8,315.8 1152.7,320.8 C1151.7,325.9 1150.3,329.6 1147.6,333.4 C1144.9,337.2 1140.7,341.3 1136.3,343.5 C1131.9,345.7 1126.1,346.8 1121.1,346.6 C1116.0,346.4 1110.6,344.6 1106.0,342.2 C1101.4,339.8 1096.5,336.5 1093.3,332.1 C1090.1,327.7 1087.8,321.4 1087.0,315.7 C1086.2,310.0 1086.8,303.1 1088.3,298.0 C1089.8,292.9 1092.8,288.8 1095.9,285.4 C1099.1,282.0 1103.2,279.4 1107.2,277.8 C1111.2,276.2 1115.0,275.7 1119.8,275.9 Z" fill="url(#gBlastCyto)"/>
<ellipse transform="translate(1124.3,310.6) rotate(0)" rx="22.7" ry="21.5" fill="url(#gBlastNuc)"/>
<path d="M971.2,347.9 C976.3,348.1 983.1,349.0 987.9,351.0 C992.7,353.0 997.0,356.0 1000.1,360.1 C1003.2,364.2 1005.4,369.8 1006.2,375.4 C1007.0,381.0 1006.5,388.4 1004.7,393.7 C1002.9,399.0 999.9,403.8 995.6,407.4 C991.3,410.9 984.6,414.0 978.8,415.0 C972.9,416.0 965.8,415.3 960.5,413.5 C955.2,411.7 950.4,408.4 946.8,404.3 C943.2,400.2 940.4,394.9 939.1,389.1 C937.8,383.3 937.8,374.9 939.1,369.3 C940.4,363.7 943.8,358.9 946.8,355.6 C949.8,352.3 953.3,350.8 957.4,349.5 C961.5,348.2 966.1,347.6 971.2,347.9 Z" fill="url(#gBlastCyto)"/>
<ellipse transform="translate(974.6,382.6) rotate(0)" rx="19.6" ry="22.6" fill="url(#gBlastNuc)"/>
<path d="M972.1,448.7 C978.0,448.5 987.7,448.2 993.6,449.7 C999.5,451.2 1003.8,453.7 1007.4,457.5 C1011.0,461.3 1013.9,466.9 1015.2,472.3 C1016.5,477.7 1016.2,484.3 1015.2,489.9 C1014.2,495.4 1012.6,501.7 1009.3,505.6 C1006.0,509.5 1001.0,511.9 995.6,513.4 C990.2,514.9 983.4,515.0 977.0,514.4 C970.6,513.8 963.0,511.9 957.4,509.5 C951.8,507.1 947.2,503.6 943.6,499.7 C940.0,495.8 936.9,491.1 935.8,486.0 C934.7,480.9 935.0,474.2 936.8,469.3 C938.6,464.4 943.0,459.7 946.6,456.6 C950.2,453.5 954.0,452.0 958.3,450.7 C962.5,449.4 966.2,448.9 972.1,448.7 Z" fill="url(#gBlastCyto)"/>
<ellipse transform="translate(979.5,485) rotate(0)" rx="27.5" ry="20.8" fill="url(#gBlastNuc)"/>
<path d="M1033.6,411.2 C1040.9,410.5 1049.2,411.8 1055.4,414.5 C1061.6,417.2 1067.0,421.4 1070.6,427.6 C1074.2,433.8 1076.8,443.9 1077.2,451.5 C1077.6,459.1 1076.1,467.7 1072.8,473.3 C1069.5,478.9 1064.1,482.8 1057.6,485.3 C1051.1,487.9 1040.9,489.5 1033.6,488.6 C1026.3,487.7 1019.3,484.6 1014.0,479.9 C1008.7,475.2 1004.2,467.5 1002.0,460.2 C999.8,452.9 999.3,443.2 1000.9,436.3 C1002.5,429.4 1006.3,423.0 1011.8,418.8 C1017.2,414.6 1026.3,411.9 1033.6,411.2 Z" fill="url(#gBlastCyto)"/>
<ellipse transform="translate(1042.9,447.7) rotate(0)" rx="24.5" ry="25.8" fill="url(#gBlastNuc)"/>
<path d="M1061.9,369.8 C1068.1,369.8 1076.4,371.5 1081.5,375.3 C1086.6,379.1 1090.8,385.8 1092.4,392.7 C1094.0,399.6 1093.8,411.2 1091.3,416.7 C1088.8,422.1 1083.2,423.8 1077.2,425.4 C1071.2,427.0 1061.2,428.7 1055.4,426.5 C1049.6,424.3 1045.2,418.3 1042.3,412.3 C1039.4,406.3 1037.5,396.7 1037.9,390.5 C1038.3,384.3 1040.5,378.8 1044.5,375.3 C1048.5,371.9 1055.7,369.8 1061.9,369.8 Z" fill="url(#gBlastCyto)"/>
<ellipse transform="translate(1066.5,399) rotate(-30)" rx="19.2" ry="19" fill="url(#gBlastNuc)"/>
<path d="M1125.1,366.5 C1131.6,366.5 1140.7,368.0 1146.9,372.0 C1153.1,376.0 1158.5,383.1 1162.1,390.5 C1165.7,397.9 1168.3,409.1 1168.7,416.7 C1169.1,424.3 1167.6,430.5 1164.3,436.3 C1161.0,442.1 1154.9,448.1 1149.1,451.5 C1143.3,454.9 1135.7,457.0 1129.5,457.0 C1123.3,457.0 1117.1,455.3 1112.0,451.5 C1106.9,447.7 1102.1,441.4 1099.0,434.1 C1095.9,426.8 1093.9,415.9 1093.5,407.9 C1093.1,399.9 1094.4,392.1 1096.8,386.1 C1099.2,380.1 1103.0,375.3 1107.7,372.0 C1112.4,368.7 1118.6,366.5 1125.1,366.5 Z" fill="url(#gBlastCyto)"/>
<ellipse transform="translate(1127.3,411.8) rotate(0)" rx="24" ry="31" fill="url(#gBlastNuc)"/>
<path d="M1094.6,474.4 C1100.8,474.6 1110.2,475.7 1116.4,478.8 C1122.6,481.9 1127.6,487.3 1131.6,492.9 C1135.6,498.5 1139.3,505.6 1140.4,512.5 C1141.5,519.4 1141.5,527.8 1138.2,534.3 C1134.9,540.8 1128.0,548.0 1120.7,551.8 C1113.4,555.6 1102.6,557.6 1094.6,557.2 C1086.6,556.8 1078.2,553.8 1072.8,549.6 C1067.3,545.4 1064.1,539.1 1061.9,532.2 C1059.7,525.3 1058.6,515.5 1059.7,508.2 C1060.8,500.9 1065.1,493.7 1068.4,488.6 C1071.7,483.5 1074.9,480.1 1079.3,477.7 C1083.7,475.3 1088.4,474.2 1094.6,474.4 Z" fill="url(#gBlastCyto)"/>
<ellipse transform="translate(1102.3,518) rotate(0)" rx="27.2" ry="28.3" fill="url(#gBlastNuc)"/>
<text x="506.4" y="150.5" font-size="20" fill="#2f8d92" stroke="#2f8d92" stroke-width="0.8" font-weight="normal" textLength="156.6" lengthAdjust="spacing">Blood stem cell</text>
<text x="238.0" y="242.0" font-size="20" fill="#2f8d92" stroke="#2f8d92" stroke-width="0.8" font-weight="normal" textLength="179.0" lengthAdjust="spacing">Myeloid stem cell</text>
<text x="731.6" y="259.0" font-size="20" fill="#2f8d92" stroke="#2f8d92" stroke-width="0.8" font-weight="normal" textLength="203.0" lengthAdjust="spacing">Lymphoid stem cell</text>
<text x="56.7" y="431.0" font-size="20" fill="#2f8d92" stroke="#2f8d92" stroke-width="0.8" font-weight="normal" textLength="90.7" lengthAdjust="spacing">Platelets</text>
<text x="172.2" y="548.0" font-size="20" fill="#2f8d92" stroke="#2f8d92" stroke-width="0.8" font-weight="normal" textLength="155.8" lengthAdjust="spacing">Red blood cells</text>
<text x="347.7" y="548.5" font-size="20" fill="#2f8d92" stroke="#2f8d92" stroke-width="0.8" font-weight="normal" textLength="113.3" lengthAdjust="spacing">Myeloblast</text>
<text x="510.0" y="432.0" font-size="20" fill="#2f8d92" stroke="#2f8d92" stroke-width="0.8" font-weight="normal" textLength="109.0" lengthAdjust="spacing">Monoblast</text>
<text x="512.3" y="659.0" font-size="20" fill="#2f8d92" stroke="#2f8d92" stroke-width="0.8" font-weight="normal" textLength="104.7" lengthAdjust="spacing">Monocyte</text>
<text x="765.6" y="502.5" font-size="20" fill="#2f8d92" stroke="#2f8d92" stroke-width="0.8" font-weight="normal" textLength="134.4" lengthAdjust="spacing">Lymphoblast</text>
<text x="314.0" y="832.5" font-size="20" fill="#2f8d92" stroke="#2f8d92" stroke-width="0.4" font-weight="bold" textLength="178.7" lengthAdjust="spacing">White blood cells</text>
<text x="334.5" y="858.0" font-size="20" fill="#a9c2c6" stroke="#a9c2c6" stroke-width="0.45" font-weight="normal" textLength="139.5" lengthAdjust="spacing">Granulocytes</text>
<text x="743.3" y="817.5" font-size="20" fill="#2f8d92" stroke="#2f8d92" stroke-width="0.4" font-weight="bold" textLength="179.4" lengthAdjust="spacing">White blood cells</text>
<text x="762.7" y="844.0" font-size="20" fill="#a9c2c6" stroke="#a9c2c6" stroke-width="0.45" font-weight="normal" textLength="141.3" lengthAdjust="spacing">B lymphocyte</text>
<text x="762.7" y="869.5" font-size="20" fill="#a9c2c6" stroke="#a9c2c6" stroke-width="0.45" font-weight="normal" textLength="141.3" lengthAdjust="spacing">T lymphocyte</text>
<text x="740.6" y="896.0" font-size="20" fill="#a9c2c6" stroke="#a9c2c6" stroke-width="0.45" font-weight="normal" textLength="184.7" lengthAdjust="spacing">Natural killer cells</text>
<text x="1027.0" y="585.5" font-size="16" fill="#2f8d92" stroke="#2f8d92" stroke-width="0.1" font-weight="normal" textLength="53.0" lengthAdjust="spacing">Blasts</text>
</g>
</svg>
</body></html>
